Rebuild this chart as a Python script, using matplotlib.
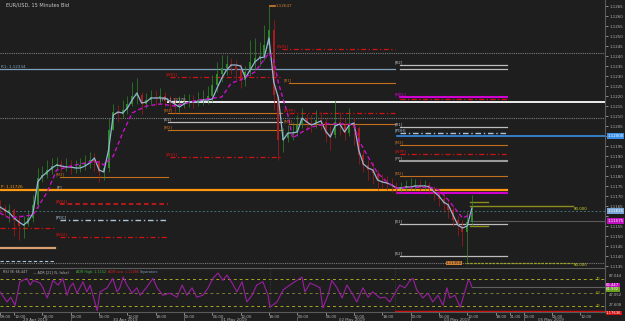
import numpy as np
import matplotlib.pyplot as plt
from matplotlib.transforms import blended_transform_factory

# hourly bars, hour 0 = 29 Apr 2019 09:00
open0 = 1.1165
close = [1.1164, 1.1162, 1.1163, 1.1158, 1.1155, 1.1156, 1.1159, 1.11655, 1.1179, 1.11805,
         1.1183, 1.1185, 1.1186, 1.11845, 1.1185, 1.1184, 1.11845, 1.11855, 1.11865, 1.1188,
         1.1187, 1.1182, 1.1184, 1.1203, 1.1212, 1.1211, 1.1213, 1.1216, 1.1220, 1.12205,
         1.1216, 1.1218, 1.12195, 1.1219, 1.1220, 1.1218, 1.12165, 1.1215, 1.1216, 1.1217,
         1.12175, 1.12165, 1.1218, 1.12185, 1.1220, 1.12255, 1.1231, 1.1234, 1.1236, 1.1235,
         1.1233, 1.1228, 1.1232, 1.1237, 1.1239, 1.1240, 1.12455, 1.1253, 1.12205, 1.1198,
         1.1199, 1.12015, 1.1202, 1.12055, 1.1209, 1.12065, 1.1206, 1.1208, 1.1207, 1.1201,
         1.12005, 1.1207, 1.12055, 1.12015, 1.1206, 1.1204, 1.11905, 1.11855, 1.1183, 1.11815,
         1.11775, 1.1177, 1.1176, 1.1175, 1.11735, 1.11745, 1.1175, 1.1175, 1.11755, 1.1175,
         1.11755, 1.11735, 1.1171, 1.11685, 1.1166, 1.1163, 1.1158, 1.1155, 1.1152, 1.1157,
         1.11625]
high = [1.1168, 1.11655, 1.1166, 1.1164, 1.11605, 1.1160, 1.1163, 1.11705, 1.1184, 1.1185,
        1.1188, 1.1189, 1.11895, 1.1188, 1.1189, 1.1188, 1.1188, 1.1189, 1.11905, 1.1192,
        1.11915, 1.1188, 1.1187, 1.1209, 1.1216, 1.12155, 1.1218, 1.1220, 1.1227, 1.1229,
        1.1222, 1.12215, 1.1223, 1.1223, 1.1224, 1.1222, 1.12205, 1.12195, 1.1220, 1.1221,
        1.1221, 1.12205, 1.1222, 1.1223, 1.1225, 1.12305, 1.1237, 1.12405, 1.12405, 1.1239,
        1.1238, 1.1236, 1.1235, 1.1248, 1.1249, 1.1247, 1.12555, 1.1265, 1.1258, 1.12205,
        1.1204, 1.12055, 1.1207, 1.12105, 1.1214, 1.1211, 1.12105, 1.1213, 1.1212, 1.1209,
        1.1205, 1.1218, 1.1212, 1.1209, 1.1214, 1.1209, 1.1205, 1.1193, 1.1188, 1.1187,
        1.1183, 1.1181, 1.1180, 1.1179, 1.1177, 1.1177, 1.1178, 1.1179, 1.11785, 1.1178,
        1.1178, 1.1177, 1.1175, 1.1173, 1.1171, 1.1168, 1.1165, 1.1160, 1.1158, 1.1162,
        1.11705]
low = [1.1162, 1.1160, 1.1157, 1.1150, 1.1148, 1.1149, 1.1155, 1.1157, 1.1164, 1.1177,
       1.1179, 1.1181, 1.1183, 1.1182, 1.11825, 1.1181, 1.11815, 1.1182, 1.1183, 1.1184,
       1.11825, 1.1177, 1.1178, 1.1182, 1.1203, 1.1207, 1.1209, 1.1211, 1.1215, 1.1216,
       1.1211, 1.1214, 1.1216, 1.12155, 1.1216, 1.1215, 1.1213, 1.12115, 1.1212, 1.1214,
       1.12145, 1.1214, 1.1215, 1.12155, 1.1216, 1.1217, 1.1222, 1.1227, 1.12305, 1.1231,
       1.1228, 1.1224, 1.1225, 1.1230, 1.1233, 1.1235, 1.1238, 1.12405, 1.1213, 1.1188,
       1.1192, 1.1197, 1.1198, 1.1200, 1.1204, 1.1203, 1.1202, 1.1204, 1.1203, 1.1197,
       1.1193, 1.1199, 1.12005, 1.1198, 1.1200, 1.11955, 1.1186, 1.1182, 1.1178, 1.1176,
       1.1173, 1.1174, 1.1173, 1.1172, 1.1171, 1.11715, 1.11725, 1.1173, 1.1173, 1.11725,
       1.1173, 1.1171, 1.1168, 1.1165, 1.1162, 1.1159, 1.1155, 1.1150, 1.1145, 1.11365,
       1.1155]
# light blue smoothed price line
smooth = [1.11645, 1.1163, 1.11615, 1.1159, 1.1157, 1.11555, 1.11575, 1.11615, 1.1177, 1.1180,
          1.1182, 1.1184, 1.11855, 1.1185, 1.11845, 1.11845, 1.1184, 1.1184, 1.1185, 1.11865,
          1.1189, 1.1183, 1.1182, 1.1193, 1.12105, 1.1212, 1.12115, 1.1214, 1.1218, 1.12215,
          1.12165, 1.1217, 1.1219, 1.1219, 1.1219, 1.1219, 1.12175, 1.1216, 1.12145, 1.1216,
          1.1217, 1.1217, 1.1217, 1.1218, 1.1218, 1.12185, 1.1224, 1.1229, 1.1233, 1.12355,
          1.12355, 1.1235, 1.1229, 1.1233, 1.1237, 1.1239, 1.12395, 1.1249, 1.1227, 1.1219,
          1.1198, 1.12015, 1.12015, 1.1202, 1.1209, 1.1207, 1.12055, 1.12065, 1.12075, 1.12025,
          1.11995, 1.1205, 1.1206, 1.1202, 1.12055, 1.12065, 1.1193, 1.1186, 1.1184, 1.1183,
          1.1178, 1.1177, 1.11765, 1.11755, 1.1174, 1.1174, 1.11745, 1.11745, 1.1175, 1.1175,
          1.1175, 1.11745, 1.1172, 1.1170, 1.1167, 1.11655, 1.11605, 1.11555, 1.1154, 1.1155,
          1.1164]
# slow magenta average
ma_t = [0, 2, 7, 10, 12, 15, 19, 21, 22, 24, 26, 28, 31, 34, 37, 42, 47, 49, 51, 54,
        57, 58, 59, 61, 62, 64, 66, 69, 73, 75, 76, 78, 80, 82, 84, 91, 93, 95, 97, 98, 100]
ma_v = [1.11615, 1.1159, 1.11605, 1.1172, 1.1183, 1.1185, 1.1187, 1.1187, 1.11855, 1.1190,
        1.12015, 1.12115, 1.1215, 1.1216, 1.1215, 1.1218, 1.12195, 1.12265, 1.1228, 1.1232,
        1.12415, 1.1238, 1.12265, 1.12105, 1.1199, 1.1202, 1.12045, 1.1206, 1.1206, 1.12055,
        1.1198, 1.11895, 1.11815, 1.1177, 1.1174, 1.11745, 1.1173, 1.1168, 1.1162, 1.1159, 1.1161]
# RSI
rsi_t = [0.0, 1.5, 2.3, 3.2, 4.2, 5.7, 6.4, 7.0, 8.5, 9.1,
         10.0, 10.6, 11.2, 12.3, 13.3, 14.2, 14.8, 15.5, 16.3, 17.6,
         18.4, 19.1, 20.6, 21.2, 22.7, 23.9, 24.8, 25.4, 26.1, 26.9,
         28.0, 29.0, 29.7, 31.1, 32.4, 33.3, 34.5, 36.0, 37.5, 38.6,
         39.6, 40.7, 41.7, 43.0, 44.1, 45.1, 46.2, 47.2, 48.1, 49.2,
         50.2, 51.3, 52.3, 53.4, 54.4, 55.7, 56.8, 57.2, 58.7, 60.0,
         61.4, 62.9, 64.0, 64.6, 65.7, 66.7, 67.8, 68.4, 69.5, 70.3,
         71.4, 72.5, 73.5, 74.6, 75.6, 76.9, 78.0, 79.0, 80.5, 81.6,
         82.6, 83.7, 84.7, 85.8, 86.9, 87.5, 88.3, 89.6, 90.7, 91.7,
         92.8, 93.9, 94.7, 95.3, 96.4, 97.5, 98.5, 99.2, 99.6, 100.0]
rsi_v = [51, 36, 43, 31, 66, 71, 61, 68, 64, 57,
         42, 54, 68, 61, 71, 46, 58, 64, 49, 66,
         51, 61, 23, 51, 57, 71, 51, 57, 73, 61,
         49, 57, 46, 58, 71, 57, 46, 49, 43, 61,
         46, 57, 43, 46, 57, 71, 79, 68, 76, 64,
         51, 66, 36, 46, 61, 66, 46, 28, 36, 54,
         61, 68, 73, 51, 64, 61, 57, 27, 46, 68,
         57, 42, 61, 49, 36, 57, 43, 51, 42, 43,
         36, 49, 61, 57, 68, 71, 54, 42, 49, 36,
         46, 31, 57, 42, 46, 28, 51, 68, 66, 58]

# pivot / level lines: price, from hour, to hour, style, tag
lvl_price = [1.12415, 1.1209, 1.11365,
             1.12335, 1.12355, 1.12335, 1.12295, 1.12435, 1.12265, 1.12195, 1.12185,
             1.1217, 1.12115, 1.12115, 1.1207, 1.1206, 1.1203, 1.11895,
             1.12045, 1.12015, 1.1200, 1.11955, 1.1191, 1.11875, 1.1180, 1.11795,
             1.1173, 1.11715, 1.1166, 1.1158, 1.11495, 1.1154, 1.1144, 1.11375,
             1.1156, 1.1140, 1.11575, 1.1167, 1.1165, 1.1155, 1.11365]
lvl_from = [0, 0, 0,
            0, 84.7, 84.7, 36.0, 59.7, 61.2, 84.7, 84.7,
            35.6, 35.6, 61.2, 35.6, 61.2, 35.6, 36.0,
            84.7, 84.7, 84.1, 84.7, 84.7, 84.7, 84.7, 12.7,
            0, 84.1, 12.7, 12.7, 12.7, 0, 0, 0,
            84.7, 84.7, 99.6, 99.6, 99.6, 99.6, 98.7]
lvl_to = [128.2, 128.2, 128.2,
          83.7, 107.4, 107.4, 59.7, 83.7, 83.7, 107.4, 107.4,
          128.2, 59.7, 83.7, 59.7, 83.7, 59.7, 59.7,
          107.4, 107.4, 128.2, 107.4, 107.4, 107.4, 107.4, 35.6,
          107.4, 107.4, 35.6, 35.6, 35.6, 11.7, 11.7, 11.7,
          107.4, 107.4, 128.2, 103.4, 121.4, 103.4, 121.4]
lvl_kind = ['dot', 'dot', 'dot',
            'r1', 'gray', 'gray', 'red', 'red', 'orange', 'magenta', 'red',
            'white', 'orange', 'red', 'gray', 'orange', 'orange', 'red',
            'gray', 'ltblue', 'blue', 'orange', 'red', 'graythick', 'orange', 'orange',
            'pivot', 'magenta', 'redd', 'ltblue', 'red', 'red', 'tan', 'bluedash',
            'gray', 'gray', 'dim', 'olive', 'olive', 'olive', 'olivedot']
lvl_tag = ['', '', '',
           '', '[R2]', '', '[WR1]', '[WR1]', '[R1]', '[MR1]', '',
           '', '[M3]', '[WPP]', '[S1]', '[M3]', '[M2]', '[WS1]',
           '[R1]', '[PDH]', '', '[M3]', '[WPP]', '[PP]', '[M2]', '[M3]',
           '', '', '[WS1]', '[PDC]', '[WS2]', '', '', '',
           '[S1]', '[S2]', '', '', '', '', '']

styles = {
    'dot': dict(color='#7c7c7c', ls=(0, (1, 1)), lw=0.8),
    'r1': dict(color='#7fa3bf', ls='-', lw=0.9),
    'gray': dict(color='#bdbdbd', ls='-', lw=0.9),
    'graythick': dict(color='#9a9a9a', ls='-', lw=1.5),
    'red': dict(color='#d41212', ls=(0, (4, 2, 1, 2)), lw=0.9),
    'redd': dict(color='#e01a1a', ls=(0, (3, 2)), lw=1.1),
    'orange': dict(color='#c2701e', ls='-', lw=0.8),
    'magenta': dict(color='#d000d0', ls='-', lw=1.5),
    'white': dict(color='#ececec', ls='-', lw=1.4),
    'blue': dict(color='#3a8ee6', ls='-', lw=1.2),
    'ltblue': dict(color='#a9c4d8', ls=(0, (4, 2, 1, 2)), lw=1.0),
    'bluedash': dict(color='#a9c4d8', ls=(0, (3, 2)), lw=0.8),
    'pivot': dict(color='#ff9a10', ls='-', lw=1.6),
    'tan': dict(color='#d9a070', ls='-', lw=1.6),
    'olive': dict(color='#8c8c1e', ls='-', lw=1.0),
    'olivedot': dict(color='#a0a020', ls=(0, (2, 1)), lw=0.9),
    'dim': dict(color='#5a5a5a', ls='-', lw=0.8),
}

day_names = ['29 Apr 2019', '30 Apr 2019', '01 May 2019', '02 May 2019', '03 May 2019', '06 May 2019']
day_mid = [7.4, 26.5, 49.6, 74.6, 96.8, 116.7]
day_start = [15, 39, 63, 87, 111]
time_ticks = [0, 3, 9, 15, 21, 27, 33, 39, 45, 51, 57, 63, 69, 75, 81, 87, 93, 99, 105, 108, 111, 117, 123]
time_labels = ['09:00', '12:00', '18:00', '00:00', '06:00', '12:00', '18:00', '00:00', '06:00', '12:00',
               '18:00', '00:00', '06:00', '12:00', '18:00', '00:00', '06:00', '12:00', '18:00', '21:00',
               '00:00', '06:00', '12:00']

W, H = 625, 321
BG = '#1e1e1e'
UP, DN = '#2f8a2a', '#a81c1c'
TXT = '#b4b4b4'

fig = plt.figure(figsize=(W / 100, H / 100), dpi=100, facecolor=BG)
ax = fig.add_axes([0, 1 - 267 / H, 605 / W, 267 / H], facecolor=BG)
rx = fig.add_axes([0, 9 / H, 605 / W, 44 / H], facecolor=BG)

xmax = 128.2
ax.set_xlim(0, xmax)
ax.set_ylim(1.11345, 1.1268)

# level lines
for p, a, b, k, tag in zip(lvl_price, lvl_from, lvl_to, lvl_kind, lvl_tag):
    st = styles[k]
    ax.plot([a, b], [p, p], color=st['color'], ls=st['ls'], lw=st['lw'], zorder=1)
    if tag:
        ax.text(a - 1.0, p + 0.00002, tag, color=st['color'], fontsize=2.8,
                ha='left', va='bottom', zorder=5)

# bid line
ax.axhline(close[-1], color='#3d6f78', ls=(0, (2, 2)), lw=0.7, zorder=1)

# candles
hours = np.arange(len(close))
cl = np.array(close)
opens = np.r_[open0, cl[:-1]]
cols = np.where(cl >= opens, UP, DN)
ax.vlines(hours, low, high, colors=cols, lw=0.5, zorder=2)
ax.vlines(hours, np.minimum(opens, cl), np.maximum(opens, cl) + 0.00002, colors=cols, lw=1.4, zorder=2)

ax.plot(hours, smooth, color='#93b6d6', lw=0.9, zorder=3)
ax.plot(ma_t, ma_v, color='#c810c8', lw=1.0, ls=(0, (3, 2)), zorder=3)

# labels on the chart
ax.text(0.2, 1.12335 + 0.00002, 'R1: 1.12334', color='#7fa3bf', fontsize=3, va='bottom')
ax.text(0.2, 1.1173 + 0.00003, 'P: 1.11726', color='#ff9a10', fontsize=3, va='bottom')
ax.text(12.1, 1.1173 + 0.00003, '[P]', color='#bdbdbd', fontsize=2.8, va='bottom')
ax.text(34.0, 1.1217 + 0.00003, '[PP] 1.12170', color='#bdbdbd', fontsize=2.8, va='bottom')
ax.plot([57.2, 58.2], [1.1265, 1.1265], color='#d08030', lw=1.2)
ax.text(58.4, 1.1265, '1.12647', color='#d08030', fontsize=3, va='center')
ax.text(94.5, 1.11365, '1.11350', color='#1e1e1e', fontsize=2.8, va='center', ha='left',
        bbox=dict(boxstyle='square,pad=0.1', fc='#d08030', ec='none'))
ax.text(121.6, 1.1165 - 0.00015, '80.000', color='#d0d020', fontsize=2.8, va='center')
ax.text(121.6, 1.11365 - 0.0001, '80.000', color='#d0d020', fontsize=2.8, va='center')

# price scale
ax.yaxis.tick_right()
ticks = np.arange(1.1135, 1.12651, 0.0005)
hidden = [1.1200, 1.1160]
ax.set_yticks(ticks)
ax.set_yticklabels(['' if min(abs(t - h) for h in hidden) < 1e-6 else '%.4f' % t for t in ticks])
ax.tick_params(axis='y', labelsize=2.9, colors=TXT, length=2, width=0.5, pad=1.5)
ax.tick_params(axis='x', bottom=False, labelbottom=False)
for s in ['top', 'left', 'bottom']:
    ax.spines[s].set_visible(False)
ax.spines['right'].set_color('#5a5a5a')

tr = blended_transform_factory(ax.transAxes, ax.transData)
for p, txt, fc in [(1.1200, '1.12000', '#3a8ee6'), (1.11625, '1.11625', '#7aa6d6'),
                   (1.11575, '1.11575', '#c010c0')]:
    ax.text(1.004, p, txt, transform=tr, fontsize=2.9, color='white', va='center', ha='left',
            clip_on=False, bbox=dict(boxstyle='square,pad=0.2', fc=fc, ec='none'))

fig.text(6 / W, 1 - 5 / H, 'EUR/USD, 15 Minutes Bid', fontsize=3.6, color='#c8c8c8', va='center')

# RSI panel
rx.set_xlim(0, xmax)
rx.set_ylim(21, 86.5)
for lv, c in [(70, '#a8a820'), (50, '#7a7a30'), (30, '#a8a820')]:
    rx.axhline(lv, color=c, ls=(0, (3, 3)), lw=0.7)
for d in [57.2, 83.7]:
    rx.axvline(d, color='#4a4a4a', ls=(0, (1, 2)), lw=0.6)
rx.plot(rsi_t, rsi_v, color='#9a1fa0', lw=0.8)
rx.plot([rsi_t[-1], xmax], [rsi_v[-1], rsi_v[-1]], color='#606060', lw=0.8)
rx.plot([83.7, xmax], [22.5, 22.5], color='#d01010', lw=1.0)
hdr = [(0.6, 'RSI (9) 66.447', TXT), (7.0, '\u2014 ADR [21] (5, false)', TXT),
       (16.1, 'ADR High: 1.1152', '#40b040'), (22.9, 'ADR Low: 1.12086', '#d02020'),
       (29.7, 'Separators', '#7a9ac0')]
for hx, txt, c in hdr:
    rx.text(hx, 80.5, txt, color=c, fontsize=2.4, va='center')
for lv in [70, 50, 30]:
    rx.text(126.8, lv, str(lv), color='#c0c020', fontsize=2.6, va='center', ha='center')

rx.set_yticks([])
rx.set_xticks(time_ticks)
rx.set_xticklabels(time_labels)
for lb in rx.get_xticklabels():
    lb.set_ha('left')
rx.tick_params(axis='x', labelsize=2.9, colors=TXT, length=2, width=0.5, pad=0.3)
for s in ['top', 'left']:
    rx.spines[s].set_visible(False)
rx.spines['right'].set_color('#5a5a5a')
rx.spines['bottom'].set_color('#5a5a5a')

trx = blended_transform_factory(rx.transData, rx.transAxes)
for nm, m in zip(day_names, day_mid):
    rx.text(m, -0.175, nm, transform=trx, fontsize=2.9, color=TXT, ha='center', va='center', clip_on=False)
for d in day_start:
    rx.plot([d, d], [-0.12, -0.25], transform=trx, color='#6a6a6a', lw=0.6, clip_on=False)

# RSI scale labels
for py, txt, fc in [(285, '66.447', '#c010c0'), (289.5, '61.932', '#6aa020'), (313, '1.17636', '#d01010')]:
    fig.text(606 / W, 1 - py / H, txt, fontsize=2.7, color='white', va='center',
             bbox=dict(boxstyle='square,pad=0.12', fc=fc, ec='none'))
for py, txt in [(276, '87.044'), (295, '47.052'), (305, '27.608')]:
    fig.text(609 / W, 1 - py / H, txt, fontsize=2.7, color=TXT, va='center')

# panel separator
fig.add_artist(plt.Line2D([0, 605 / W], [1 - 267.5 / H, 1 - 267.5 / H], color='#5a5a5a', lw=0.8))

fig.savefig('out.png', dpi=100, facecolor=BG)
